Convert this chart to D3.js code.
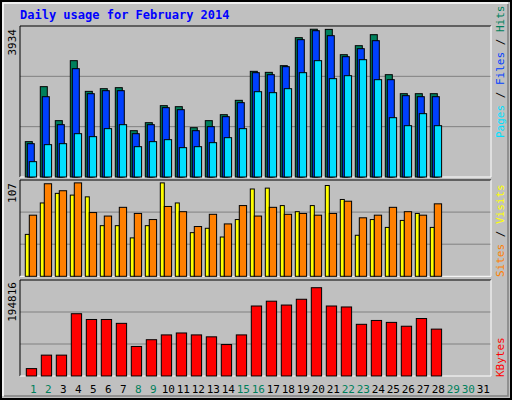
<!DOCTYPE html>
<html><head><meta charset="utf-8">
<script src="https://cdn.jsdelivr.net/npm/d3@7"></script>
<style>body{margin:0;background:#fff}</style></head>
<body><svg id="c" width="512" height="400"></svg>
<script>
const days = d3.range(1, 32);
const hits  = [941,2405,1500,3097,2280,2351,2378,1233,1446,1899,1872,1313,1500,1659,2041,2813,2786,2964,3709,3934,3930,3256,3496,3789,2724,2218,2218,2218];
const files = [887,2138,1393,2884,2218,2298,2298,1153,1393,1846,1792,1233,1340,1606,1979,2777,2724,2937,3656,3895,3762,3203,3416,3629,2591,2165,2138,2138];
const pages = [408,861,887,1153,1074,1287,1393,807,941,994,781,807,914,1047,1287,2271,2245,2351,2777,3097,2618,2697,3123,2591,1579,1366,1686,1366];
const visits= [48,84,95,93,91,58,58,44,58,107,84,50,55,45,65,100,101,81,74,81,104,88,47,65,56,64,72,56];
const sites = [70,106,98,107,73,69,79,72,65,80,74,57,71,60,81,69,79,71,72,70,72,86,67,70,79,74,70,83];
const kbytes= [16293,46046,46046,137430,124678,124678,116178,65173,80049,90675,94926,90675,86425,69423,90675,154431,165057,156556,169308,194816,154431,152306,114053,122553,118303,109802,126804,103426];
const weekend = [1,2,8,9,15,16,22,23,29,30];

const svg = d3.select("#c");
const font = "DejaVu Sans Mono, monospace";
svg.append("rect").attr("x",0).attr("y",0).attr("width",512).attr("height",400).attr("fill","#c0c0c0");
svg.append("rect").attr("x",1).attr("y",1).attr("width",510).attr("height",398).attr("fill","none").attr("stroke","#000").attr("stroke-width",2);
svg.append("path").attr("d","M3,396V3H508").attr("fill","none").attr("stroke","#fff").attr("stroke-width",1.5);
svg.append("path").attr("d","M4,396H508V4").attr("fill","none").attr("stroke","#808080").attr("stroke-width",1.5);
svg.append("text").attr("x",20).attr("y",19).attr("font-family",font).attr("font-size",12).attr("font-weight","bold").attr("fill","#0000ff").text("Daily usage for February 2014");

const x = d3.scaleBand().domain(days).range([25.3, 25.3+15*31]).paddingInner(0).paddingOuter(0);
const L=20, R=491;

function panel(top, bottom, max) {
  const y = d3.scaleLinear().domain([0, max]).range([bottom, top]);
  const g = svg.append("g");
  const h = bottom - top;
  [1,2].forEach(k => g.append("line").attr("x1",L).attr("x2",R).attr("y1",bottom-h*k/3).attr("y2",bottom-h*k/3).attr("stroke","#808080").attr("stroke-width",1));
  g.append("path").attr("d",`M${L},${bottom}V${top}H${R}`).attr("fill","none").attr("stroke","#000");
  g.append("path").attr("d",`M${L},${bottom}H${R}V${top}`).attr("fill","none").attr("stroke","#fff");
  return {g, y};
}
function bars(p, data, off, w, fill) {
  p.g.selectAll(null).data(data).enter().append("rect")
    .attr("x",(d,i)=>x(i+1)+off).attr("width",w)
    .attr("y",d=>p.y(d)).attr("height",d=>p.y(0)-p.y(d))
    .attr("fill",fill).attr("stroke","#000").attr("stroke-width",1);
}
function vlabel(xp, yp, parts, anchor) {
  const t = svg.append("text").attr("transform",`translate(${xp},${yp}) rotate(-90)`)
    .attr("font-family",font).attr("font-size",11).attr("text-anchor",anchor||"start");
  parts.forEach(([s,c])=>t.append("tspan").attr("fill",c).text(s));
}

const p1 = panel(26, 177, 4020);
bars(p1, hits, 0, 7, "#00805c");
bars(p1, files, 2, 7, "#0040ff");
bars(p1, pages, 4, 7.3, "#00e0ff");
vlabel(16, 29, [["3934","#000"]], "end");
vlabel(504, 138, [["Pages","#00e0ff"],[" / ","#000"],["Files","#0040ff"],[" / ","#000"],["Hits","#00805c"]]);

const p2 = panel(180, 276.3, 110.3);
bars(p2, visits, 0, 4, "#ffff00");
bars(p2, sites, 4, 7.3, "#ff8000");
vlabel(16, 183, [["107","#000"]], "end");
vlabel(504, 277, [["Sites","#ff8000"],[" / ","#000"],["Visits","#ffff00"]]);

const p3 = panel(280, 376, 194816*99.7/91.7);
bars(p3, kbytes, 1, 10.3, "#ff0000");
vlabel(16, 282, [["194816","#000"]], "end");
vlabel(504, 377, [["KBytes","#ff0000"]]);

svg.selectAll(".dl").data(days).enter().append("text")
  .attr("x",d=>x(d)+8).attr("y",393).attr("text-anchor","middle")
  .attr("font-family",font).attr("font-size",11)
  .attr("fill",d=>weekend.includes(d)?"#00805c":"#000").text(d=>d);
</script></body></html>
